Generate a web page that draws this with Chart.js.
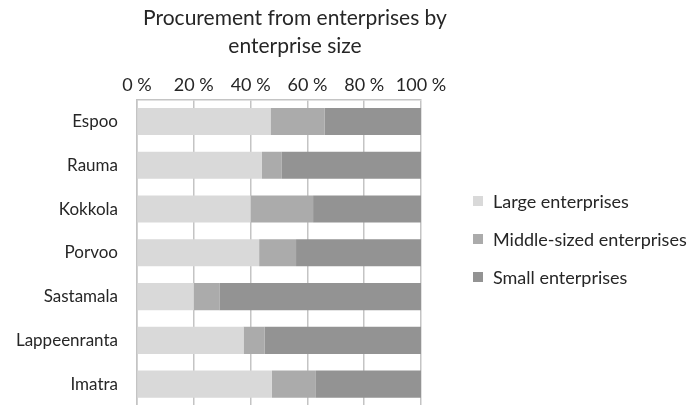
<!DOCTYPE html>
<html>
<head>
<meta charset="utf-8">
<script src="https://cdn.jsdelivr.net/npm/chart.js@4"></script>
<style>
  html, body { margin: 0; padding: 0; background: #fff; overflow: hidden; }
  #wrap { width: 692px; height: 408px; }
</style>
</head>
<body>
<div id="wrap"><canvas id="chart" width="692" height="408"></canvas></div>
<script>
const cities = ['Espoo', 'Rauma', 'Kokkola', 'Porvoo', 'Sastamala', 'Lappeenranta', 'Imatra'];
const largeShare = [47, 44, 40, 43, 20, 37.5, 47.5];
const middleShare = [19, 7, 22, 13, 9, 7.5, 15.5];
const smallShare = [34, 49, 38, 44, 71, 55, 37];
const seriesNames = ['Large enterprises', 'Middle-sized enterprises', 'Small enterprises'];
const seriesColors = ['#d9d9d9', '#ababab', '#939393'];
const titleLines = ['Procurement from enterprises by', 'enterprise size'];

const FONT = 'Lato, "Open Sans", sans-serif';
const TEXT = '#262626';

// two-line heading above the axis labels
const titlePlugin = {
  id: 'twoLineTitle',
  afterDraw(chart) {
    const ctx = chart.ctx;
    ctx.save();
    ctx.font = '21px ' + FONT;
    ctx.fillStyle = TEXT;
    ctx.textAlign = 'center';
    ctx.textBaseline = 'alphabetic';
    ctx.fillText(titleLines[0], 295, 25);
    ctx.fillText(titleLines[1], 295, 53);
    ctx.restore();
  }
};

// legend block to the right of the plot, one row per dataset
const sideLegend = {
  id: 'sideLegend',
  afterDraw(chart) {
    const ctx = chart.ctx;
    const sets = chart.data.datasets;
    const x = chart.chartArea.right + 52;
    const step = 38;
    const y0 = 239 - step * (sets.length - 1) / 2;
    ctx.save();
    ctx.font = '18px ' + FONT;
    ctx.textAlign = 'left';
    ctx.textBaseline = 'middle';
    sets.forEach((ds, i) => {
      const y = y0 + i * step;
      ctx.fillStyle = ds.backgroundColor;
      ctx.fillRect(x, y - 5, 10, 10);
      ctx.fillStyle = TEXT;
      ctx.fillText(ds.label, x + 20, y + 1);
    });
    ctx.restore();
  }
};

const ctx = document.getElementById('chart');
new Chart(ctx, {
  type: 'bar',
  data: {
    labels: cities,
    datasets: [
      { label: seriesNames[0], data: largeShare, backgroundColor: seriesColors[0] },
      { label: seriesNames[1], data: middleShare, backgroundColor: seriesColors[1] },
      { label: seriesNames[2], data: smallShare, backgroundColor: seriesColors[2] }
    ]
  },
  options: {
    indexAxis: 'y',
    responsive: false,
    animation: false,
    devicePixelRatio: 1,
    datasets: {
      bar: { barPercentage: 0.62, categoryPercentage: 1, borderWidth: 0 }
    },
    layout: { padding: { top: 70, bottom: 2, left: 0, right: 271 } },
    scales: {
      x: {
        position: 'top',
        stacked: true,
        min: 0,
        max: 100,
        ticks: {
          stepSize: 20,
          color: TEXT,
          padding: 4,
          font: { family: FONT, size: 18 },
          callback: v => v + ' %'
        },
        grid: { color: '#c4c4c4', lineWidth: 1.5, drawTicks: false },
        border: { display: true, color: '#c4c4c4', width: 1.5 }
      },
      y: {
        stacked: true,
        ticks: {
          color: TEXT,
          padding: 19,
          font: { family: FONT, size: 17 }
        },
        grid: { display: false, drawTicks: false },
        border: { display: true, color: '#c4c4c4', width: 1.5 },
        afterFit(scale) {
          scale.width = 137;
          scale.paddingTop = 0;
          scale.paddingBottom = 0;
        }
      }
    },
    plugins: {
      legend: { display: false },
      tooltip: { enabled: false }
    }
  },
  plugins: [titlePlugin, sideLegend]
});
</script>
</body>
</html>
